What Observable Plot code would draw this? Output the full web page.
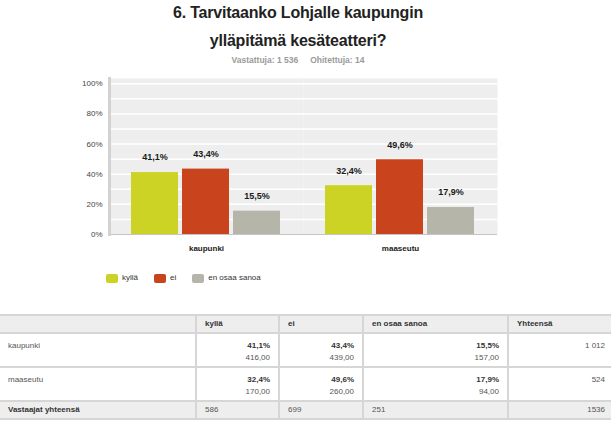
<!DOCTYPE html>
<html><head><meta charset="utf-8">
<script src="https://cdn.jsdelivr.net/npm/d3@7"></script>
<script src="https://cdn.jsdelivr.net/npm/@observablehq/plot@0.6"></script>
<style>
body{margin:0;width:611px;height:421px;position:relative;overflow:hidden;background:#fff;font-family:"Liberation Sans",Arial,sans-serif;}
#title{position:absolute;left:0;top:-1px;width:596px;text-align:center;font-weight:bold;font-size:16px;letter-spacing:-0.2px;line-height:28px;color:#222;}
#sub{position:absolute;left:0;top:54px;width:596px;text-align:center;font-weight:bold;font-size:8.5px;color:#9a9a9a;line-height:12px;}
#sub span+span{margin-left:12px;}
#chart{position:absolute;left:0;top:65px;}
#legend{position:absolute;top:272px;left:106px;display:flex;align-items:center;font-size:8px;color:#333;line-height:12px;}
#legend .it{display:flex;align-items:center;margin-right:16px;}
#legend .sw{width:12px;height:9px;border-radius:2px;margin-right:4px;}
table{position:absolute;top:314px;left:-2px;width:640px;border-collapse:collapse;table-layout:fixed;font-size:8px;color:#555;}
td,th{border:2px solid #d6d6d6;padding:0 8px;text-align:left;vertical-align:middle;overflow:hidden;white-space:nowrap;box-sizing:border-box;}
th{background:#eeeeee;font-weight:bold;color:#333;height:18px;line-height:12px;}
tr.body td{height:34px;vertical-align:top;padding-top:6px;line-height:12px;}
tr.body td.num{text-align:right;}
tr.body td.num b{color:#333;}
tr.foot td{background:#eeeeee;height:18px;line-height:12px;}
tr.foot td.lab{font-weight:bold;color:#333;}
</style>
</head><body>
<div id="title">6. Tarvitaanko Lohjalle kaupungin<br>ylläpitämä kesäteatteri?</div>
<div id="sub"><span>Vastattuja: 1 536</span><span>Ohitettuja: 14</span></div>
<div id="chart"></div>
<div id="legend"></div>
<table id="tbl"></table>
<script>
const groups = ["kaupunki", "maaseutu"];
const answers = ["kyllä", "ei", "en osaa sanoa"];
const kylla = [41.1, 32.4];
const ei = [43.4, 49.6];
const eos = [15.5, 17.9];
const kyllaN = ["416,00", "170,00"];
const eiN = ["439,00", "260,00"];
const eosN = ["157,00", "94,00"];
const rowTotals = ["1 012", "524"];
const colTotals = ["586", "699", "251", "1536"];
const totalHeader = "Yhteensä";
const footerLabel = "Vastaajat yhteensä";
const yTicks = [0, 20, 40, 60, 80, 100];
const gridLines = [10, 20, 30, 40, 50, 60, 70, 80, 90, 100];
const colors = ["#cdd325", "#c9441c", "#b5b6a9"];

const series = [kylla, ei, eos];
const counts = [kyllaN, eiN, eosN];
const fmt = v => v.toFixed(1).replace(".", ",") + "%";

const rows = [];
groups.forEach((g, i) => answers.forEach((a, j) => rows.push({group: g, answer: a, value: series[j][i]})));

const chart = Plot.plot({
  width: 611, height: 194,
  marginLeft: 108, marginRight: 114, marginTop: 13, marginBottom: 25,
  style: {fontFamily: "Liberation Sans, Arial, sans-serif", background: "transparent", overflow: "visible"},
  fx: {domain: groups, padding: 0, label: null},
  x: {domain: answers, paddingInner: 0.07, paddingOuter: 0.416, axis: null},
  y: {domain: [0, 103.5], label: null},
  color: {domain: answers, range: colors},
  marks: [
    Plot.frame({fill: "#eeeeee", stroke: "none"}),
    Plot.ruleY(gridLines, {stroke: "#ffffff", strokeWidth: 1.5}),
    Plot.barY(rows, {fx: "group", x: "answer", y: "value", fill: "answer"}),
    Plot.ruleY([0], {stroke: "#c4c4c4", strokeWidth: 1}),
    Plot.frame({anchor: "left", facetAnchor: "left", stroke: "#d2d2d2", strokeWidth: 3}),
    Plot.axisY({anchor: "left", ticks: yTicks, tickFormat: d => d + "%", tickSize: 0, tickPadding: 7, fontSize: 8, fill: "#444", label: null}),
    Plot.axisFx({anchor: "bottom", tickSize: 0, tickPadding: 11, fontSize: 8, fontWeight: "bold", fill: "#222", label: null}),
    Plot.text(rows, {fx: "group", x: "answer", y: "value", text: d => fmt(d.value), dy: -15, fontSize: 9, fontWeight: "bold", fill: "#1a1a1a"})
  ]
});
document.getElementById("chart").appendChild(chart);

// legend
const leg = document.getElementById("legend");
answers.forEach((a, j) => {
  const it = document.createElement("div");
  it.className = "it";
  it.innerHTML = `<div class="sw" style="background:${colors[j]}"></div><span>${a}</span>`;
  leg.appendChild(it);
});

// table
const widths = [197, 83, 84, 145, 131];
let html = "<colgroup>" + widths.map(w => `<col style="width:${w}px">`).join("") + "</colgroup>";
html += "<tr><th></th>" + answers.map(a => `<th>${a}</th>`).join("") + `<th>${totalHeader}</th></tr>`;
groups.forEach((g, i) => {
  html += `<tr class="body"><td>${g}</td>` +
    answers.map((a, j) => `<td class="num"><b>${fmt(series[j][i])}</b><br>${counts[j][i]}</td>`).join("") +
    `<td class="num" style="padding-right:33px">${rowTotals[i]}</td></tr>`;
});
html += `<tr class="foot"><td class="lab">${footerLabel}</td>` + colTotals.map((t, k) => `<td${k === colTotals.length - 1 ? ' style="text-align:right;padding-right:33px"' : ''}>${t}</td>`).join("") + "</tr>";
document.getElementById("tbl").innerHTML = html;
</script>
</body></html>
